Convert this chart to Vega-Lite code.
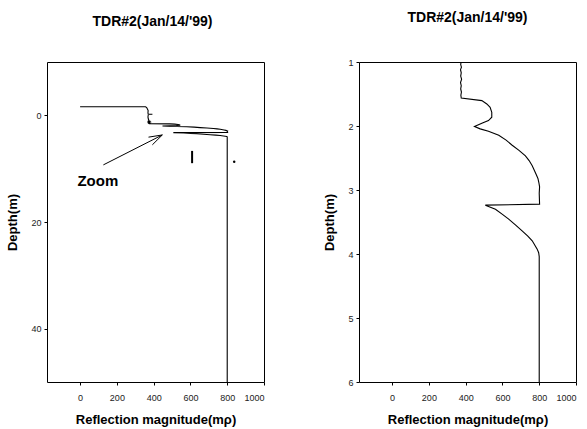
{
  "$schema": "https://vega.github.io/schema/vega-lite/v6.json",
  "background": "white",
  "padding": {"left": 6, "top": 10, "right": 5, "bottom": 5},
  "spacing": 95,
  "bounds": "flush",
  "config": {
    "font": "Liberation Sans",
    "view": {"stroke": "black", "strokeWidth": 1},
    "axis": {
      "grid": false,
      "domain": false,
      "tickColor": "black",
      "tickSize": 3,
      "labelFont": "Liberation Sans",
      "labelFontSize": 9,
      "labelColor": "#222",
      "titleFont": "Liberation Sans",
      "titleFontSize": 13,
      "titleFontWeight": "bold",
      "titleColor": "black"
    },
    "title": {"font": "Liberation Sans", "fontSize": 14, "fontWeight": "bold", "color": "black", "offset": 33, "anchor": "middle"}
  },
  "datasets": {
    "trace": [
      {"i": 0, "r": 0, "d": -1.6},
      {"i": 1, "r": 356, "d": -1.6},
      {"i": 2, "r": 362, "d": -1.45},
      {"i": 3, "r": 366, "d": -1.2},
      {"i": 4, "r": 370, "d": -0.9},
      {"i": 5, "r": 369, "d": -0.5},
      {"i": 6, "r": 370, "d": -0.25},
      {"i": 7, "r": 393, "d": -0.2},
      {"i": 8, "r": 371, "d": -0.15},
      {"i": 9, "r": 369, "d": 0.3},
      {"i": 10, "r": 371, "d": 0.7},
      {"i": 11, "r": 375, "d": 1.0},
      {"i": 12, "r": 373, "d": 1.04},
      {"i": 13, "r": 377, "d": 1.08},
      {"i": 14, "r": 372, "d": 1.12},
      {"i": 15, "r": 376, "d": 1.17},
      {"i": 16, "r": 373, "d": 1.22},
      {"i": 17, "r": 378, "d": 1.27},
      {"i": 18, "r": 372, "d": 1.32},
      {"i": 19, "r": 376, "d": 1.37},
      {"i": 20, "r": 373, "d": 1.42},
      {"i": 21, "r": 377, "d": 1.47},
      {"i": 22, "r": 374, "d": 1.52},
      {"i": 23, "r": 376, "d": 1.562},
      {"i": 24, "r": 488, "d": 1.603},
      {"i": 25, "r": 515, "d": 1.655},
      {"i": 26, "r": 533, "d": 1.707},
      {"i": 27, "r": 542, "d": 1.785},
      {"i": 28, "r": 542, "d": 1.863},
      {"i": 29, "r": 524, "d": 1.915},
      {"i": 30, "r": 488, "d": 1.957},
      {"i": 31, "r": 448, "d": 2.009},
      {"i": 32, "r": 479, "d": 2.045},
      {"i": 33, "r": 524, "d": 2.082},
      {"i": 34, "r": 580, "d": 2.144},
      {"i": 35, "r": 620, "d": 2.22},
      {"i": 36, "r": 653, "d": 2.30},
      {"i": 37, "r": 690, "d": 2.38},
      {"i": 38, "r": 725, "d": 2.467},
      {"i": 39, "r": 745, "d": 2.54},
      {"i": 40, "r": 762, "d": 2.62},
      {"i": 41, "r": 783, "d": 2.753},
      {"i": 42, "r": 793, "d": 2.82},
      {"i": 43, "r": 798, "d": 2.883},
      {"i": 44, "r": 802, "d": 2.95},
      {"i": 45, "r": 800, "d": 3.05},
      {"i": 46, "r": 802, "d": 3.221},
      {"i": 47, "r": 507, "d": 3.237},
      {"i": 48, "r": 562, "d": 3.30},
      {"i": 49, "r": 600, "d": 3.38},
      {"i": 50, "r": 634, "d": 3.456},
      {"i": 51, "r": 672, "d": 3.55},
      {"i": 52, "r": 707, "d": 3.64},
      {"i": 53, "r": 738, "d": 3.72},
      {"i": 54, "r": 762, "d": 3.794},
      {"i": 55, "r": 789, "d": 3.924},
      {"i": 56, "r": 797, "d": 3.98},
      {"i": 57, "r": 800, "d": 4.04},
      {"i": 58, "r": 800, "d": 50}
    ],
    "bar": [{"r": 609, "d": 6.67, "d2": 8.97}],
    "dot": [{"r": 838, "d": 8.72}],
    "arrow": [
      {"r": 126.5, "d": 9.29, "r2": 447, "d2": 3.68},
      {"r": 393, "d": 5.53, "r2": 447, "d2": 3.68},
      {"r": 372, "d": 4.09, "r2": 447, "d2": 3.68}
    ],
    "label": [{"r": 96.6, "d": 13.2, "text": "Zoom"}]
  },
  "hconcat": [
    {
      "width": 217,
      "height": 320,
      "title": {"text": "TDR#2(Jan/14/'99)", "dx": -3},
      "encoding": {
        "x": {"field": "r", "type": "quantitative", "title": "Reflection magnitude(mρ)",
              "scale": {"domain": [-180, 1000], "nice": false, "zero": false},
              "axis": {"values": [0, 200, 400, 600, 800, 1000], "format": "d", "labelPadding": 8, "titlePadding": 11}},
        "y": {"field": "d", "type": "quantitative", "title": "Depth(m)",
              "scale": {"domain": [-10, 50], "nice": false, "zero": false, "reverse": true},
              "axis": {"values": [0, 20, 40], "labelPadding": 3, "titlePadding": 11}}
      },
      "layer": [
        {
          "data": {"name": "trace"},
          "mark": {"type": "line", "color": "black", "strokeWidth": 1.1},
          "encoding": {"order": {"field": "i", "type": "quantitative"}}
        },
        {
          "data": {"name": "bar"},
          "mark": {"type": "rule", "color": "black", "strokeWidth": 2},
          "encoding": {"y2": {"field": "d2"}}
        },
        {
          "data": {"name": "dot"},
          "mark": {"type": "circle", "color": "black", "size": 6, "opacity": 1}
        },
        {
          "data": {"name": "arrow"},
          "mark": {"type": "rule", "color": "black", "strokeWidth": 1},
          "encoding": {"x2": {"field": "r2"}, "y2": {"field": "d2"}}
        },
        {
          "data": {"name": "label"},
          "mark": {"type": "text", "font": "Liberation Sans", "fontSize": 15, "fontWeight": "bold", "color": "black", "align": "center", "baseline": "alphabetic"},
          "encoding": {"text": {"field": "text"}}
        }
      ]
    },
    {
      "width": 217,
      "height": 320,
      "title": {"text": "TDR#2(Jan/14/'99)"},
      "data": {"name": "trace"},
      "mark": {"type": "line", "color": "black", "strokeWidth": 1.1, "clip": true},
      "encoding": {
        "x": {"field": "r", "type": "quantitative", "title": "Reflection magnitude(mρ)",
              "scale": {"domain": [-180, 1000], "nice": false, "zero": false},
              "axis": {"values": [0, 200, 400, 600, 800, 1000], "format": "d", "labelPadding": 8, "titlePadding": 11}},
        "y": {"field": "d", "type": "quantitative", "title": "Depth(m)",
              "scale": {"domain": [1, 6], "nice": false, "zero": false, "reverse": true},
              "axis": {"values": [1, 2, 3, 4, 5, 6], "labelPadding": 3, "titlePadding": 11}},
        "order": {"field": "i", "type": "quantitative"}
      }
    }
  ]
}
